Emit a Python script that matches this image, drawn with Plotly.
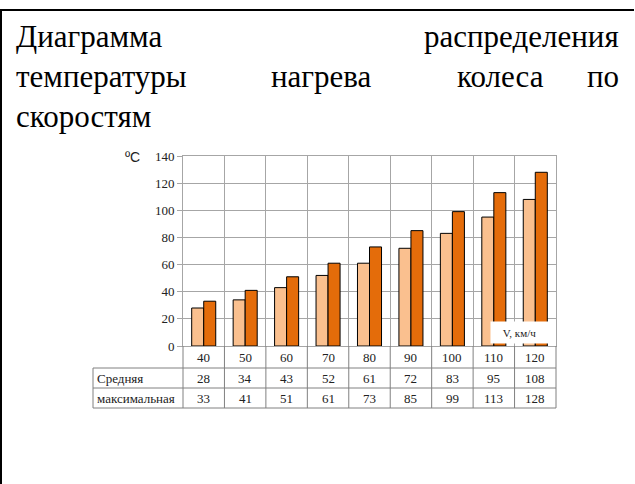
import plotly.graph_objects as go

# данные
speeds = ['40', '50', '60', '70', '80', '90', '100', '110', '120']
avg_temp = [28, 34, 43, 52, 61, 72, 83, 95, 108]
max_temp = [33, 41, 51, 61, 73, 85, 99, 113, 128]
row_names = ['Средняя', 'максимальная']

title_lines = [
    ['Диаграмма', 'распределения'],
    ['температуры', 'нагрева', 'колеса', 'по'],
    ['скоростям'],
]

W, H = 635, 484
L, R, T, B = 183, 556, 156, 346  # область графика в пикселях


def py(y):
    return (B - y) / (B - T)


def px(x):
    return (x - L) / (R - L)


serif = 'Liberation Serif, DejaVu Serif, serif'
grid = '#a6a6a6'

fig = go.Figure()
fig.add_trace(go.Bar(x=speeds, y=avg_temp, name=row_names[0],
                     marker=dict(color='#FAC08F', line=dict(color='black', width=1))))
fig.add_trace(go.Bar(x=speeds, y=max_temp, name=row_names[1],
                     marker=dict(color='#E46C0A', line=dict(color='black', width=1))))

shapes = []
# рамка страницы
shapes.append(dict(type='line', xref='paper', yref='paper', x0=px(0), x1=px(634),
                   y0=py(10), y1=py(10), line=dict(color='black', width=2)))
shapes.append(dict(type='line', xref='paper', yref='paper', x0=px(1), x1=px(1),
                   y0=py(10), y1=py(H), line=dict(color='black', width=2)))
# таблица под графиком
for yy in [368, 388, 408]:
    shapes.append(dict(type='line', xref='paper', yref='paper', x0=px(93), x1=1,
                       y0=py(yy), y1=py(yy), line=dict(color='#808080', width=1)))
n = len(speeds)
for i in range(n + 1):
    shapes.append(dict(type='line', xref='paper', yref='paper', x0=i / n, x1=i / n,
                       y0=py(B), y1=py(408), line=dict(color='#808080', width=1)))
shapes.append(dict(type='line', xref='paper', yref='paper', x0=px(93), x1=px(93),
                   y0=py(368), y1=py(408), line=dict(color='#808080', width=1)))

ann = []
# заголовок, выровненный по ширине
line_y = [36, 76, 116]
line_x = [
    [(14, 'left'), (621, 'right')],
    [(14, 'left'), (321, 'center'), (500, 'center'), (621, 'right')],
    [(14, 'left')],
]
for words, ys, xs in zip(title_lines, line_y, line_x):
    for w, (xx, anc) in zip(words, xs):
        ann.append(dict(text=w, xref='paper', yref='paper', x=px(xx), y=py(ys),
                        xanchor=anc, yanchor='middle', showarrow=False,
                        font=dict(family=serif, size=31, color='black')))

# строки таблицы
for i, s in enumerate(speeds):
    ann.append(dict(text=s, xref='x', yref='paper', x=i, y=py(357), showarrow=False,
                    xanchor='center', yanchor='middle',
                    font=dict(family=serif, size=13, color='#222')))
for vals, name, yy in [(avg_temp, row_names[0], 378), (max_temp, row_names[1], 398)]:
    ann.append(dict(text=name, xref='paper', yref='paper', x=px(95), y=py(yy),
                    xanchor='left', yanchor='middle', showarrow=False,
                    font=dict(family=serif, size=13, color='#222')))
    for i, v in enumerate(vals):
        ann.append(dict(text=str(v), xref='x', yref='paper', x=i, y=py(yy),
                        showarrow=False, xanchor='center', yanchor='middle',
                        font=dict(family=serif, size=13, color='#222')))

# подписи осей
ann.append(dict(text='ºC', xref='paper', yref='paper', x=px(142), y=py(157),
                xanchor='right', yanchor='middle', showarrow=False,
                font=dict(family='Liberation Sans, Arial, sans-serif', size=14, color='#222')))
ann.append(dict(text='V, км/ч', xref='paper', yref='paper', x=px(549), y=py(344),
                xanchor='right', yanchor='bottom', showarrow=False, bgcolor='white',
                width=55, height=19,
                font=dict(family=serif, size=11, color='#222')))

fig.update_layout(
    width=W, height=H,
    margin=dict(l=L, r=W - R, t=T, b=H - B, pad=0),
    paper_bgcolor='white', plot_bgcolor='white',
    barmode='group', bargap=0.42, bargroupgap=0,
    showlegend=False,
    shapes=shapes, annotations=ann,
    xaxis=dict(type='category', categoryorder='array', categoryarray=speeds,
               range=[-0.5, n - 0.5], tickson='boundaries', showgrid=True,
               gridcolor=grid, showticklabels=False, ticks='', showline=True,
               linecolor=grid, mirror=True),
    yaxis=dict(range=[0, 140], dtick=20, showgrid=True, gridcolor=grid,
               ticks='outside', ticklen=5, tickcolor=grid, showline=True,
               linecolor=grid, mirror=True, zeroline=False,
               tickfont=dict(family=serif, size=13, color='#222')),
)

fig.write_html("out.html", config={'displayModeBar': False},
               post_script="document.body.style.margin='0px';")
